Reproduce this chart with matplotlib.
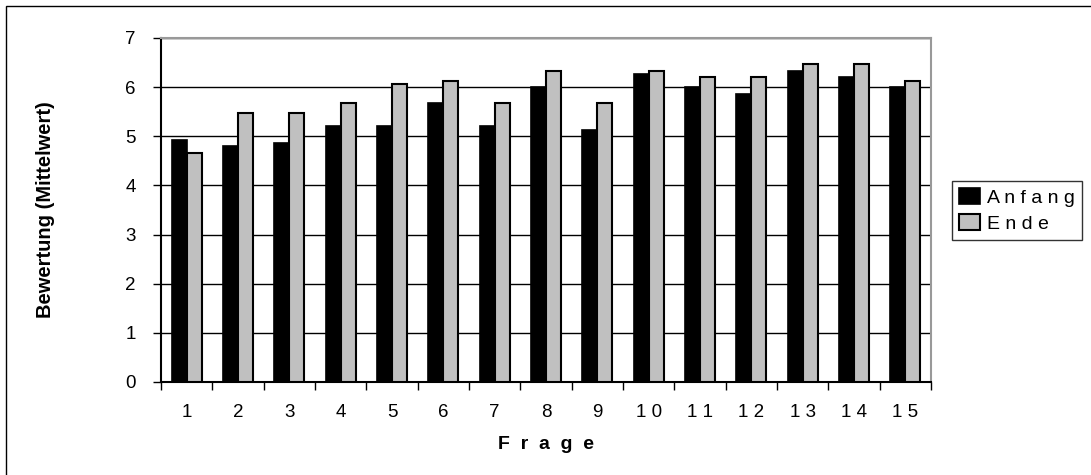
import numpy as np
import matplotlib.pyplot as plt
from matplotlib.patches import Rectangle

plt.rcParams['font.family'] = ['Liberation Sans', 'DejaVu Sans']

fragen = ['1', '2', '3', '4', '5', '6', '7', '8', '9',
          '1 0', '1 1', '1 2', '1 3', '1 4', '1 5']
anfang = [4.93, 4.80, 4.87, 5.20, 5.20, 5.67, 5.20, 6.00, 5.13, 6.27, 6.00, 5.87, 6.33, 6.20, 6.00]
ende = [4.67, 5.47, 5.47, 5.67, 6.07, 6.13, 5.67, 6.33, 5.67, 6.33, 6.20, 6.20, 6.47, 6.47, 6.13]
serien = ['A n f a n g', 'E n d e']

fig = plt.figure(figsize=(10.91, 4.75), dpi=100)
ax = fig.add_axes([161/1091, 1 - 382/475, 770/1091, 344/475])

x = np.arange(1, len(fragen) + 1)
w = 0.29
ax.bar(x - w/2, anfang, w, color='black', edgecolor='black', linewidth=1.2,
       label=serien[0], zorder=3)
ax.bar(x + w/2, ende, w, color='#c0c0c0', edgecolor='black', linewidth=1.5,
       label=serien[1], zorder=3)

ax.set_xlim(0.5, len(fragen) + 0.5)
ax.set_ylim(0, 7)
ax.set_yticks(range(0, 8))
ax.yaxis.grid(True, color='black', linewidth=1.0, zorder=0)
ax.set_axisbelow(True)

# labels in the middle, tick marks at the category borders
ax.set_xticks(x)
ax.set_xticklabels(fragen)
ax.set_xticks(np.arange(0.5, len(fragen) + 1), minor=True)
ax.tick_params(axis='x', which='major', length=0, pad=16, labelsize=13.5)
ax.tick_params(axis='x', which='minor', length=6, width=1, direction='out')
ax.tick_params(axis='y', length=6, width=1, direction='out', pad=12, labelsize=13.5)

for side in ['left', 'bottom']:
    ax.spines[side].set_color('black')
    ax.spines[side].set_linewidth(1.5)
for side in ['top', 'right']:
    ax.spines[side].set_color('#999999')
    ax.spines[side].set_linewidth(1.5)

ax.set_ylabel('Bewertung (Mittelwert)', fontsize=14.5, fontweight='bold')
ax.yaxis.set_label_coords(-0.1377, 0.5)
ax.set_xlabel('F  r  a  g  e', fontsize=14, fontweight='bold')
ax.xaxis.set_label_coords(0.5, -0.158)

leg = fig.legend(loc='upper left', bbox_to_anchor=(952/1091, 1 - 181/475),
                 frameon=True, fancybox=False, fontsize=14,
                 handlelength=1.1, handleheight=0.9, handletextpad=0.35,
                 borderpad=0.35, labelspacing=0.4, borderaxespad=0)
leg.get_frame().set_edgecolor('black')
leg.get_frame().set_linewidth(1.0)

# outer chart border
fig.patches.append(Rectangle((6/1091, -0.1), 1.2, 1 - 6/475 + 0.1,
                             transform=fig.transFigure, fill=False,
                             edgecolor='black', linewidth=1.0))

fig.savefig('out.png', dpi=100)
